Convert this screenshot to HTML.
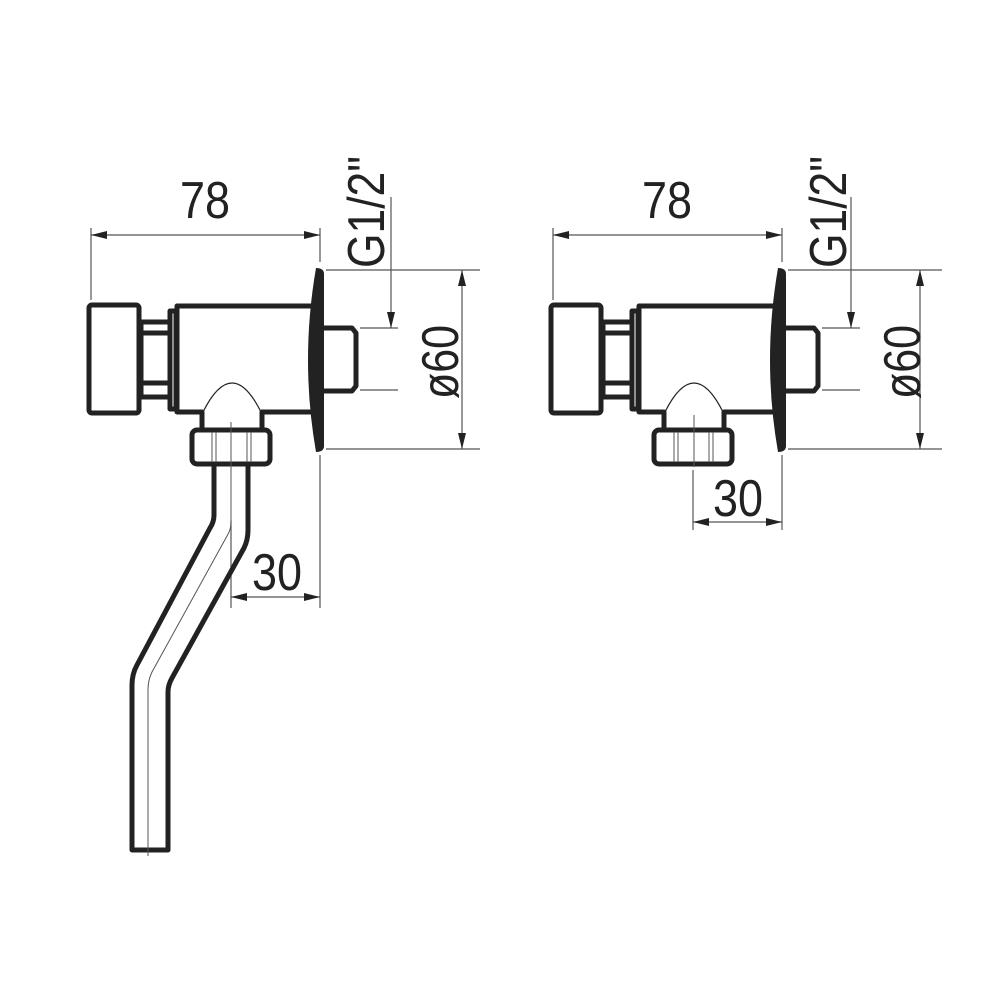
<!DOCTYPE html>
<html><head><style>html,body{margin:0;padding:0;background:#fff}svg{display:block}</style></head>
<body>
<svg width="1000" height="1000" viewBox="0 0 1000 1000" xmlns="http://www.w3.org/2000/svg">
<defs>
<marker id="a" markerWidth="16" markerHeight="8" refX="16" refY="4" orient="auto-start-reverse" markerUnits="userSpaceOnUse">
<path d="M0,0 L16,4 L0,8 Z" fill="#222"/></marker>
<g id="body">
<g fill="none" stroke="#222" stroke-width="5" stroke-linejoin="round">
<rect x="89" y="305" width="50" height="108" rx="3"/>
<rect x="141" y="322" width="29" height="75"/>
<line x1="141" y1="333" x2="170" y2="333"/>
<line x1="141" y1="383" x2="170" y2="383"/>
<rect x="170" y="311" width="6" height="98"/>
<path d="M312,306 H177 V412 H202 V428 M262,428 V412 H312"/>
<rect x="192" y="430" width="78" height="34" rx="5"/>
<path d="M322,328 H352 L356,333 V386 L352,391 H322"/>
</g>
<path d="M203,412 Q232,354 261,412" fill="none" stroke="#222" stroke-width="1.2"/>
<g stroke="#555" stroke-width="1">
<line x1="212" y1="432" x2="212" y2="462"/><line x1="216" y1="432" x2="216" y2="462"/>
<line x1="247" y1="432" x2="247" y2="462"/><line x1="251" y1="432" x2="251" y2="462"/>
</g>
<path d="M316,268 Q300,360 316,452 Q324,452 324,446 V274 Q324,268 316,268 Z" fill="#222"/>
</g>
</defs>

<g stroke="#555" stroke-width="1.2" fill="none">
<line x1="91" y1="228" x2="91" y2="300"/>
<line x1="320" y1="228" x2="320" y2="262"/>
<line x1="320" y1="455" x2="320" y2="608"/>
<line x1="91" y1="235" x2="320" y2="235" marker-start="url(#a)" marker-end="url(#a)"/>
<line x1="326" y1="270" x2="480" y2="270"/>
<line x1="326" y1="449" x2="480" y2="449"/>
<line x1="462" y1="270" x2="462" y2="449" marker-start="url(#a)" marker-end="url(#a)"/>
<line x1="360" y1="328" x2="398" y2="328"/>
<line x1="360" y1="390" x2="398" y2="390"/>
<line x1="391" y1="197" x2="391" y2="328" marker-end="url(#a)"/>
<line x1="231" y1="520" x2="231" y2="608"/>
<line x1="231" y1="597" x2="320" y2="597" marker-start="url(#a)" marker-end="url(#a)"/>
<line x1="553" y1="228" x2="553" y2="300"/>
<line x1="782" y1="228" x2="782" y2="262"/>
<line x1="782" y1="455" x2="782" y2="530"/>
<line x1="553" y1="235" x2="782" y2="235" marker-start="url(#a)" marker-end="url(#a)"/>
<line x1="788" y1="270" x2="942" y2="270"/>
<line x1="788" y1="449" x2="942" y2="449"/>
<line x1="920" y1="270" x2="920" y2="449" marker-start="url(#a)" marker-end="url(#a)"/>
<line x1="822" y1="328" x2="860" y2="328"/>
<line x1="822" y1="390" x2="860" y2="390"/>
<line x1="851" y1="197" x2="851" y2="328" marker-end="url(#a)"/>
<line x1="693" y1="470" x2="693" y2="530"/>
<line x1="693" y1="522" x2="782" y2="522" marker-start="url(#a)" marker-end="url(#a)"/>
</g>

<use href="#body"/>
<use href="#body" x="462"/>
<line x1="694" y1="415" x2="694" y2="467" stroke="#555" stroke-width="1"/>

<path d="M214,464 V515 Q214,522 210,528 L137,665 Q132,674 132,685 V850 H168 V692 Q168,685 172,678 L244,548 Q248,540 248,530 V464" fill="none" stroke="#222" stroke-width="5" stroke-linejoin="round"/>
<path d="M231,422 V522 Q231,530 227,536 L152,672 Q148,680 148,690 V856" fill="none" stroke="#555" stroke-width="1"/>

<g font-family="Liberation Sans, sans-serif" font-size="52" fill="#222">
<text x="180" y="218" textLength="50" lengthAdjust="spacingAndGlyphs">78</text>
<text x="642" y="218" textLength="50" lengthAdjust="spacingAndGlyphs">78</text>
<text x="252" y="590" textLength="50" lengthAdjust="spacingAndGlyphs">30</text>
<text x="713" y="516" textLength="50" lengthAdjust="spacingAndGlyphs">30</text>
<text transform="translate(384,268) rotate(-90)" textLength="112" lengthAdjust="spacingAndGlyphs">G1/2"</text>
<text transform="translate(846,268) rotate(-90)" textLength="112" lengthAdjust="spacingAndGlyphs">G1/2"</text>
<text transform="translate(458,399) rotate(-90)" textLength="74" lengthAdjust="spacingAndGlyphs">ø60</text>
<text transform="translate(920,399) rotate(-90)" textLength="74" lengthAdjust="spacingAndGlyphs">ø60</text>
</g>
</svg>
</body></html>
